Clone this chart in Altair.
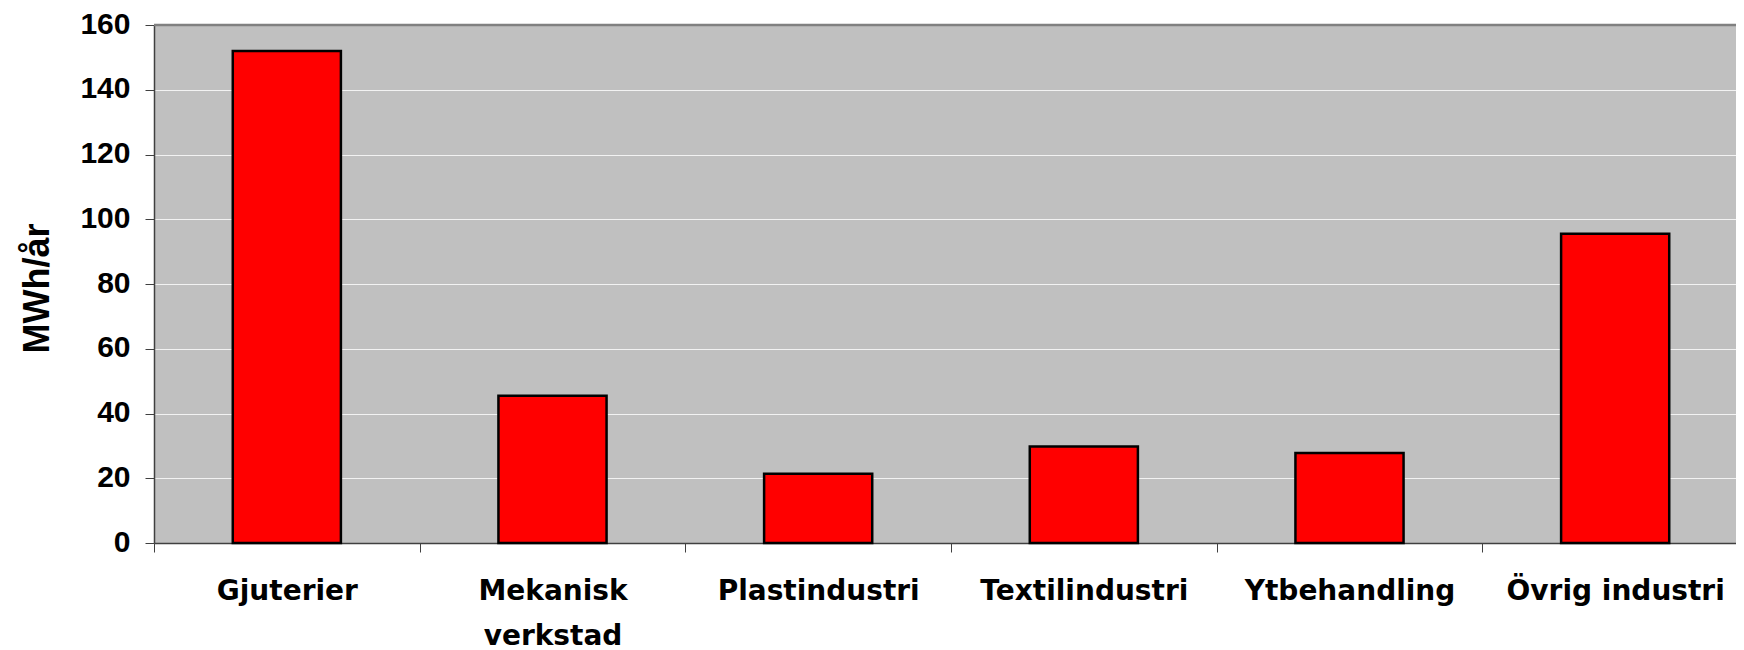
import altair as alt
import pandas as pd

categories = ["Gjuterier", "Mekanisk verkstad", "Plastindustri", "Textilindustri", "Ytbehandling", "Övrig industri"]
values = [152, 45.5, 21.4, 29.8, 27.8, 95.5]
y_ticks = [0, 20, 40, 60, 80, 100, 120, 140, 160]
y_max = 160

df = pd.DataFrame({"kategori": categories, "mwh": values})

bars = alt.Chart(df).mark_bar(
    color="#ff0000", stroke="#000000", strokeWidth=2.5,
    width=alt.RelativeBandSize(0.407),
).encode(
    x=alt.X(
        "kategori:N",
        sort=categories,
        title=None,
        scale=alt.Scale(range=[0, 1594], paddingInner=0, paddingOuter=0),
        axis=alt.Axis(
            labelAngle=0,
            labelFont="DejaVu Sans",
            labelFontWeight="bold",
            labelFontSize=28,
            labelColor="#000000",
            labelPadding=25,
            labelLineHeight=45,
            labelLimit=0,
            labelExpr="datum.value == 'Mekanisk verkstad' ? ['Mekanisk', 'verkstad'] : datum.value",
            tickBand="extent",
            tickSize=9,
            tickColor="#404040",
            domainColor="#404040",
            domainWidth=1.5,
            grid=False,
        ),
    ),
    y=alt.Y(
        "mwh:Q",
        title="MWh/år",
        scale=alt.Scale(domain=[0, y_max], nice=False),
        axis=alt.Axis(
            values=y_ticks,
            labelFont="Liberation Sans",
            labelFontWeight="bold",
            labelFontSize=30,
            labelColor="#000000",
            labelPadding=15,
            labelOffset=-1,
            tickSize=9,
            tickColor="#404040",
            domainColor="#404040",
            domainWidth=1.5,
            gridColor="#f2f2f2",
            gridWidth=1,
            titleFont="Liberation Sans",
            titleFontWeight="bold",
            titleFontSize=36,
            titleColor="#000000",
            titleAngle=270,
            titleAlign="center",
            titleBaseline="alphabetic",
            titleX=-106,
            titleY=263,
        ),
    ),
)

top_border = alt.Chart(pd.DataFrame({"ymax": [y_max]})).mark_rule(
    color="#808080", strokeWidth=2.5
).encode(y="ymax:Q")

chart = alt.layer(bars, top_border).properties(
    width=1582,
    height=518,
    autosize=alt.AutoSizeParams(type="none"),
    padding={"left": 146, "top": 17, "right": 0, "bottom": 107},
    background="#ffffff",
).configure_view(
    fill="#c0c0c0",
    strokeWidth=0,
)

chart.save("out.html", embed_options={"renderer": "svg", "actions": False})
